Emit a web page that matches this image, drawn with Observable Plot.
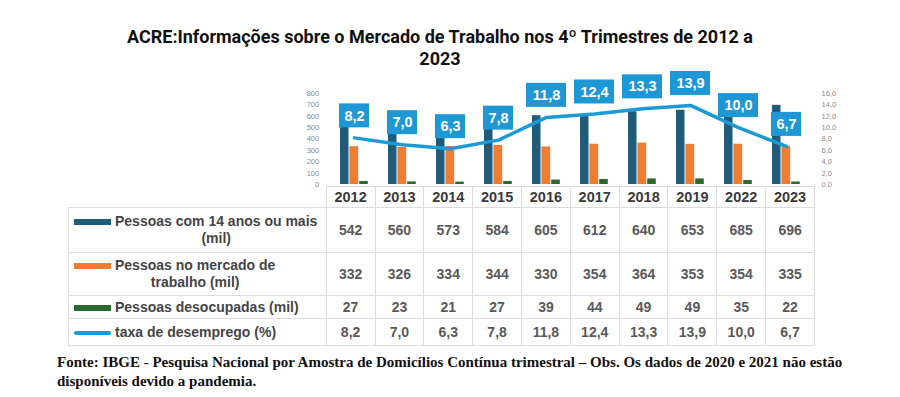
<!DOCTYPE html>
<html>
<head>
<meta charset="utf-8">
<script src="https://cdn.jsdelivr.net/npm/d3@7"></script>
<script src="https://cdn.jsdelivr.net/npm/@observablehq/plot@0.6"></script>
<style>
  html, body { margin: 0; padding: 0; background: #fff; }
  #page { position: relative; width: 900px; height: 397px; overflow: hidden; font-family: "Liberation Sans", Arial, sans-serif; }
  #title { position: absolute; left: 0; width: 880px; top: 26px; text-align: center; font-family: Roboto, "Liberation Sans", sans-serif; font-weight: 700; font-size: 18px; line-height: 22px; color: #111; }
  #chart { position: absolute; left: 0; top: 80px; }
  #tbl { position: absolute; left: 68px; top: 186px; border-collapse: collapse; table-layout: fixed; }
  #tbl td { border: 1px solid #dcdcdc; padding: 0; text-align: center; vertical-align: middle; font-weight: 700; font-size: 14px; color: #595959; }
  #tbl td.blank { border: none; }
  #tbl tr.hdr td { color: #3a3a3a; font-size: 14.5px; }
  #tbl td.lab { text-align: left; color: #454545; font-size: 14px; position: relative; }
  .sw { position: absolute; left: 5px; width: 37px; }
  .lt { display: inline-block; text-align: center; margin-left: 46px; line-height: 17px; }
  #cap { position: absolute; left: 57px; top: 353px; width: 840px; font-family: "Liberation Serif", "Times New Roman", serif; font-weight: 700; font-size: 15px; line-height: 19px; color: #111; }
</style>
</head>
<body>
<div id="page">
  <div id="title"></div>
  <div id="chart"></div>
  <table id="tbl"></table>
  <div id="cap"></div>
</div>
<script>
// ---------- data ----------
const years = ["2012","2013","2014","2015","2016","2017","2018","2019","2022","2023"];
const pessoas14 = [542,560,573,584,605,612,640,653,685,696];
const mercado = [332,326,334,344,330,354,364,353,354,335];
const desocupadas = [27,23,21,27,39,44,49,49,35,22];
const taxa = [8.2,7.0,6.3,7.8,11.8,12.4,13.3,13.9,10.0,6.7];
const leftTicks = [0,100,200,300,400,500,600,700,800];
const rightTicks = [0,2,4,6,8,10,12,14,16];
const seriesLabels = [
  ["Pessoas com 14 anos ou mais", "(mil)"],
  ["Pessoas no mercado de", "trabalho (mil)"],
  ["Pessoas desocupadas (mil)"],
  ["taxa de desemprego (%)"]
];
const titleLines = ["ACRE:Informações sobre o Mercado de Trabalho nos 4º Trimestres de 2012 a", "2023"];
const captionLines = ["Fonte: IBGE - Pesquisa Nacional por Amostra de Domicílios Contínua trimestral – Obs. Os dados de 2020 e 2021 não estão", "disponíveis devido a pandemia."];

// ---------- style ----------
const C = { dark: "#1f5c79", orange: "#ed7d31", green: "#2b6a2e", line: "#1c9ad6", box: "#1e98d4" };
const fmt = v => v.toFixed(1).replace(".", ",");

const rows = years.map((year, i) => ({
  year, p14: pessoas14[i], merc: mercado[i], deso: desocupadas[i], taxa: taxa[i]
}));
const ratio = leftTicks[leftTicks.length - 1] / rightTicks[rightTicks.length - 1];
const ty = d => d.taxa * ratio;
const isShort = d => fmt(d.taxa).length <= 3;

const chart = Plot.plot({
  width: 900,
  height: 106,
  marginLeft: 325.7,
  marginRight: 86,
  marginTop: 13,
  marginBottom: 2,
  style: { fontFamily: "Liberation Sans, Arial, sans-serif", overflow: "visible" },
  x: { type: "band", domain: years, padding: 0, axis: null },
  y: { domain: [0, leftTicks[leftTicks.length - 1]], axis: null },
  marks: [
    Plot.axisY({ ticks: leftTicks, tickSize: 0, tickPadding: 7, fontSize: 7.5, color: "#8a8a8a", label: null }),
    Plot.axisY({ anchor: "right", ticks: rightTicks.map(t => t * ratio), tickFormat: t => fmt(t / ratio), tickSize: 0, tickPadding: 7, fontSize: 7.5, color: "#8a8a8a", label: null }),
    Plot.barY(rows, { x: "year", y: "p14", fill: C.dark, insetLeft: 10, insetRight: 29.5 }),
    Plot.barY(rows, { x: "year", y: "merc", fill: C.orange, insetLeft: 19.4, insetRight: 19.8 }),
    Plot.barY(rows, { x: "year", y: "deso", fill: C.green, insetLeft: 29.2, insetRight: 10.2 }),
    Plot.line(rows, { x: "year", y: ty, stroke: C.line, strokeWidth: 3.5, strokeLinejoin: "round" }),
    Plot.barY(rows.filter(isShort), { x: "year", y1: ty, y2: ty, fill: C.box, insetLeft: 9, insetRight: 9, insetTop: -34, insetBottom: 10 }),
    Plot.barY(rows.filter(d => !isShort(d)), { x: "year", y1: ty, y2: ty, fill: C.box, insetLeft: 4, insetRight: 4, insetTop: -34, insetBottom: 10 }),
    Plot.text(rows, { x: "year", y: ty, dy: -22, text: d => fmt(d.taxa), fill: "#fff", fontWeight: "bold", fontSize: 14.5 })
  ]
});
document.getElementById("chart").appendChild(chart);

// ---------- title & caption ----------
document.getElementById("title").innerHTML = titleLines.join("<br>");
document.getElementById("cap").innerHTML = captionLines.join("<br>");

// ---------- table ----------
const tbl = d3.select("#tbl");
const colW = 48.83;
const cg = tbl.append("colgroup");
cg.append("col").style("width", "257.7px");
years.forEach(() => cg.append("col").style("width", colW + "px"));
const hdr = tbl.append("tr").attr("class", "hdr").style("height", "21px");
hdr.append("td").attr("class", "blank");
years.forEach(y => hdr.append("td").text(y));

const series = [
  { vals: pessoas14, color: C.dark, h: 45, f: v => v, swH: 6 },
  { vals: mercado, color: C.orange, h: 43, f: v => v, swH: 6 },
  { vals: desocupadas, color: C.green, h: 23, f: v => v, swH: 6 },
  { vals: taxa, color: C.line, h: 27, f: fmt, swH: 4 }
];
series.forEach((s, k) => {
  const tr = tbl.append("tr").style("height", s.h + "px");
  const lab = tr.append("td").attr("class", "lab");
  const nLines = seriesLabels[k].length;
  const top = (s.h / 2) - (nLines * 17) / 2 + 8.5 - s.swH / 2;
  lab.append("div").attr("class", "sw")
    .style("top", top + "px").style("height", s.swH + "px")
    .style("background", s.color).style("border-radius", k === 3 ? "2px" : "0");
  lab.append("span").attr("class", "lt").html(seriesLabels[k].join("<br>"));
  s.vals.forEach(v => tr.append("td").text(s.f(v)));
});
</script>
</body>
</html>
